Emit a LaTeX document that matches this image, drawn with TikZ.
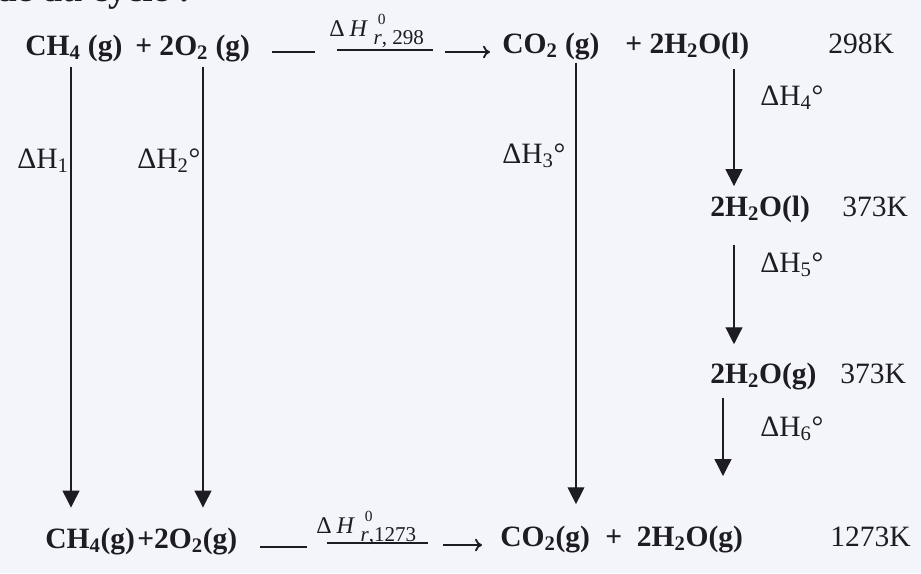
\documentclass[tikz,border=0pt]{standalone}
\usepackage{fontspec}
\setmainfont{Liberation Serif}
\usetikzlibrary{arrows.meta}
\definecolor{paper}{RGB}{244,245,250}
\definecolor{ink}{RGB}{28,28,34}
\tikzset{
  chem_n/.style = {anchor=base west, inner sep=0pt, text=ink,
    font=\fontsize{21}{25}\selectfont\bfseries},% species
  temp_n/.style = {anchor=base west, inner sep=0pt, text=ink,
    font=\fontsize{21}{25}\selectfont},% temperatures
  dh_n/.style = {anchor=base west, inner sep=0pt, text=ink,
    font=\fontsize{21}{25}\selectfont},% enthalpy steps
  rxn_n/.style = {anchor=base west, inner sep=0pt, text=ink,
    font=\fontsize{17}{19}\selectfont},% reaction enthalpy
  down_a/.style = {draw=ink, line width=0.9pt,
    -{Triangle[length=12pt,width=12pt]}},
  rxn_l/.style = {draw=ink, line width=1.3pt},
}
\newcommand{\rxnlabel}[1]{Δ\hspace{3.5pt}\textit{H}\hspace{4pt}%
  \rlap{\raisebox{8pt}{\fontsize{11}{11}\selectfont\hspace{3pt}0}}%
  \raisebox{-6pt}{\fontsize{15}{17}\selectfont\textit{r}#1}}

\begin{document}
\begin{tikzpicture}[x=0.025cm, y=-0.025cm]
\useasboundingbox (0,0) rectangle (921,573);
\fill[paper] (0,0) rectangle (921,573);
\clip (0,0) rectangle (921,573);
\node[chem_n, font=\fontsize{26}{30}\selectfont\bfseries] (head) at (-4,1) {de du cycle :};

% columns of the vertical steps
\coordinate (k1) at (71,0);
\coordinate (k2) at (203,0);
\coordinate (k3) at (576,0);
\coordinate (k4) at (734,0);
\coordinate (k6) at (723,0);

% 298 K
\node[chem_n] (ch4t) at (25,55) {CH\textsubscript{4} (g)};
\node[chem_n] (o2t) at (135,55) {+ 2O\textsubscript{2} (g)};
\node[rxn_n] (h298) at (329,36) {\rxnlabel{, 298}};
\node[chem_n] (co2t) at (502,53) {CO\textsubscript{2} (g)};
\node[chem_n] (h2olt) at (625,53) {+ 2H\textsubscript{2}O(l)};
\node[temp_n] (t298) at (828,53) {298K};

% 373 K
\node[chem_n] (h2ol) at (710,216) {2H\textsubscript{2}O(l)};
\node[temp_n] (t373a) at (842,216) {373K};
\node[chem_n] (h2og) at (710,383) {2H\textsubscript{2}O(g)};
\node[temp_n] (t373b) at (840,383) {373K};

% 1273 K
\node[chem_n] (ch4b) at (45,548) {CH\textsubscript{4}(g)};
\node[chem_n] (o2b) at (137,548) {+2O\textsubscript{2}(g)};
\node[rxn_n] (h1273) at (316,533) {\rxnlabel{,1273}};
\node[chem_n] (co2b) at (500,546) {CO\textsubscript{2}(g)};
\node[chem_n] (h2ogb) at (605,546) {+\ \ 2H\textsubscript{2}O(g)};
\node[temp_n] (t1273) at (830,546) {1273K};

% steps
\node[dh_n] (dh1) at (17,168) {ΔH\textsubscript{1}};
\node[dh_n] (dh2) at (137,168) {ΔH\textsubscript{2}°};
\node[dh_n] (dh3) at (502,163) {ΔH\textsubscript{3}°};
\node[dh_n] (dh4) at (760,105) {ΔH\textsubscript{4}°};
\node[dh_n] (dh5) at (760,272) {ΔH\textsubscript{5}°};
\node[dh_n] (dh6) at (760,436) {ΔH\textsubscript{6}°};

% reaction lines
\draw[rxn_l] ([shift={(-57,16)}]h298.base west) -- ++(43,0);
\draw[rxn_l] ([shift={(8,14)}]h298.base west) -- ++(96,0);
\draw[rxn_l,-{To[length=5pt,width=9pt]}] ([shift={(116,16)}]h298.base west) -- ++(45,0);
\draw[rxn_l] ([shift={(-56,14)}]h1273.base west) -- ++(47,0);
\draw[rxn_l] ([shift={(11,10)}]h1273.base west) -- ++(101,0);
\draw[rxn_l,-{To[length=5pt,width=9pt]}] ([shift={(127,12)}]h1273.base west) -- ++(39,0);

% vertical arrows
\draw[down_a, shorten <=3.5pt, shorten >=14pt] (ch4t.south -| k1) -- (ch4b.north -| k1);
\draw[down_a, shorten <=3.5pt, shorten >=14pt] (o2t.south -| k2) -- (o2b.north -| k2);
\draw[down_a, shorten <=2pt, shorten >=15pt] (co2t.south -| k3) -- (co2b.north -| k3);
\draw[down_a, shorten <=7pt, shorten >=6.5pt] (h2olt.south -| k4) -- (h2ol.north -| k4);
\draw[down_a, shorten <=15.6pt, shorten >=12.8pt] (h2ol.south -| k4) -- (h2og.north -| k4);
\draw[down_a, shorten <=5.7pt, shorten >=35pt] (h2og.south -| k6) -- (h2ogb.north -| k6);
\end{tikzpicture}
\end{document}
